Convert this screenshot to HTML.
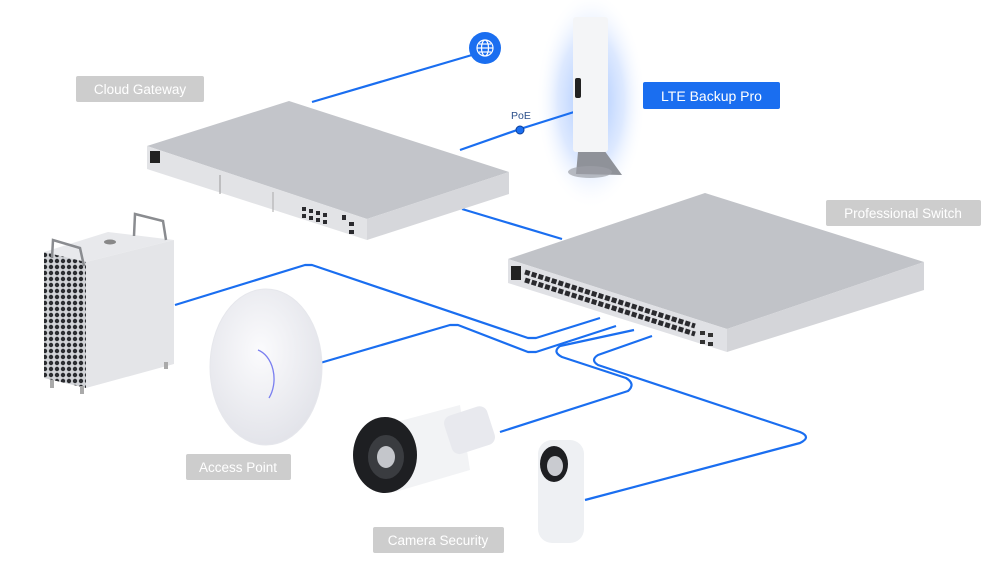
<!DOCTYPE html>
<html><head><meta charset="utf-8"><style>
html,body{margin:0;padding:0;background:#fff;}
svg{display:block}
text{font-family:"Liberation Sans",sans-serif}
</style></head><body>
<svg width="1000" height="573" viewBox="0 0 1000 573" xmlns="http://www.w3.org/2000/svg">
<defs>
<radialGradient id="glow" cx="50%" cy="50%" r="50%">
<stop offset="0" stop-color="#4d8dff" stop-opacity="0.55"/>
<stop offset="0.6" stop-color="#8fb6ff" stop-opacity="0.3"/>
<stop offset="1" stop-color="#fff" stop-opacity="0"/>
</radialGradient>
<radialGradient id="ap" cx="45%" cy="40%" r="60%">
<stop offset="0" stop-color="#fbfbfd"/><stop offset="1" stop-color="#e3e4ea"/>
</radialGradient>
<pattern id="holes" width="6" height="6" patternUnits="userSpaceOnUse">
<rect width="6" height="6" fill="#d0d2d6"/><circle cx="3" cy="3" r="2.2" fill="#2a2c30"/>
</pattern>
</defs>

<!-- LTE glow -->
<ellipse cx="591" cy="100" rx="55" ry="110" fill="url(#glow)"/>

<!-- cables -->
<g fill="none" stroke="#1a6ef0" stroke-width="2.2" stroke-linejoin="round">
<path d="M312 102 L472 55"/>
<path d="M460 150 L520 129 L574 112"/>
<path d="M462 209 L562 239"/>
<path d="M175 305 L305 265 L312 265 L528 338 L536 338 L600 318"/>
<path d="M320 363 L450 325 L458 325 L528 352 L536 352 L616 326"/>
<path d="M500 432 L628 391 Q636 384 626 378 L562 357 Q552 352 560 346 L634 330"/>
<path d="M585 500 L800 443 Q812 437 800 432 L598 365 Q590 360 598 355 L652 336"/>
</g>
<circle cx="520" cy="130" r="4" fill="#1a6ef0" stroke="#0d3f9a" stroke-width="1"/>
<text x="511" y="119" font-size="10.5" fill="#2b4f8a">PoE</text>

<!-- globe -->
<circle cx="485" cy="48" r="16" fill="#1a6ef0"/>
<g fill="none" stroke="#fff" stroke-width="1.2">
<circle cx="485" cy="48" r="8"/><ellipse cx="485" cy="48" rx="3.5" ry="8"/>
<line x1="477" y1="48" x2="493" y2="48"/><line x1="479" y1="44" x2="491" y2="44"/><line x1="479" y1="52" x2="491" y2="52"/>
</g>

<!-- Gateway -->
<polygon points="147,146 289,101 509,172 367,219" fill="#c3c5ca"/>
<polygon points="147,146 367,219 367,240 147,169" fill="#e2e3e6"/>
<polygon points="367,219 509,172 509,194 367,240" fill="#d6d7db"/>
<rect x="150" y="151" width="10" height="12" fill="#222"/>
<g fill="#2a2a2e">
<rect x="302" y="207" width="4" height="4"/><rect x="309" y="209" width="4" height="4"/><rect x="316" y="211" width="4" height="4"/><rect x="323" y="213" width="4" height="4"/>
<rect x="302" y="214" width="4" height="4"/><rect x="309" y="216" width="4" height="4"/><rect x="316" y="218" width="4" height="4"/><rect x="323" y="220" width="4" height="4"/>
<rect x="342" y="215" width="4" height="5"/><rect x="349" y="222" width="5" height="4"/><rect x="349" y="230" width="5" height="4"/>
</g>
<line x1="220" y1="175" x2="220" y2="194" stroke="#999" stroke-width="1"/>
<line x1="273" y1="192" x2="273" y2="212" stroke="#aaa" stroke-width="1"/>

<!-- LTE device -->
<polygon points="578,152 604,150 622,175 576,174" fill="#8f9299"/>
<ellipse cx="590" cy="172" rx="22" ry="6" fill="#9da0a6" opacity="0.7"/>
<rect x="573" y="17" width="35" height="135" rx="3" fill="#f4f5f7"/>
<rect x="575" y="78" width="6" height="20" rx="2" fill="#222"/>
<rect x="643" y="82" width="137" height="27" rx="2" fill="#1a6ef0"/>
<text x="711.5" y="101" font-size="14" fill="#fff" text-anchor="middle">LTE Backup Pro</text>

<!-- Switch -->
<polygon points="508,259 705,193 924,262 727,329" fill="#c1c3c8"/>
<polygon points="508,259 727,329 727,352 508,283" fill="#e0e1e5"/>
<polygon points="727,329 924,262 924,290 727,352" fill="#d4d5d9"/>
<rect x="511" y="266" width="10" height="14" fill="#222"/>
<g stroke="#2a2a2e" stroke-width="5" stroke-dasharray="5 2">
<line x1="525" y1="272" x2="695" y2="326"/>
<line x1="525" y1="280" x2="695" y2="334"/>
</g>
<g fill="#333"><rect x="700" y="331" width="5" height="4"/><rect x="708" y="333" width="5" height="4"/><rect x="700" y="340" width="5" height="4"/><rect x="708" y="342" width="5" height="4"/></g>

<!-- Mac Pro -->
<polygon points="44,252 108,232 174,240 86,262" fill="#e8e9ec"/>
<polygon points="44,252 86,262 86,388 44,378" fill="url(#holes)"/>
<polygon points="86,262 174,240 174,364 86,388" fill="#e4e5e8"/>
<g fill="none" stroke="#8a8c90" stroke-width="2.5">
<path d="M52 258 L53 240 L80 248 L84 266"/>
<path d="M134 236 L135 214 L163 221 L166 240"/>
</g>
<ellipse cx="110" cy="242" rx="6" ry="2.5" fill="#888"/>
<g fill="#aaa"><rect x="50" y="380" width="4" height="8"/><rect x="80" y="386" width="4" height="8"/><rect x="164" y="362" width="4" height="7"/></g>

<!-- AP -->
<ellipse cx="266" cy="367" rx="56" ry="78" fill="url(#ap)" stroke="#e6e7ec"/>
<path d="M258 350 A22 30 0 0 1 269 398" fill="none" stroke="#7a7ff0" stroke-width="1.3"/>

<!-- Camera bullet -->
<polygon points="385,425 460,405 470,470 395,492" fill="#f2f3f5"/>
<rect x="447" y="410" width="45" height="40" rx="8" fill="#e8e9ee" transform="rotate(-18 470 430)"/>
<ellipse cx="385" cy="455" rx="32" ry="38" fill="#1e1f22"/>
<ellipse cx="386" cy="457" rx="18" ry="22" fill="#3a3c40"/>
<ellipse cx="386" cy="457" rx="9" ry="11" fill="#c4c6cb"/>

<!-- Doorbell -->
<rect x="538" y="440" width="46" height="103" rx="14" fill="#eef0f3"/>
<ellipse cx="554" cy="464" rx="14" ry="18" fill="#1e1f22"/>
<ellipse cx="555" cy="466" rx="8" ry="10" fill="#c9cbd0"/>

<!-- labels -->
<g fill="#cdcdcd">
<rect x="76" y="76" width="128" height="26" rx="2"/>
<rect x="826" y="200" width="155" height="26" rx="2"/>
<rect x="186" y="454" width="105" height="26" rx="2"/>
<rect x="373" y="527" width="131" height="26" rx="2"/>
</g>
<g fill="#fff" font-size="13.5" text-anchor="middle">
<text x="140" y="94">Cloud Gateway</text>
<text x="903" y="218">Professional Switch</text>
<text x="238" y="472">Access Point</text>
<text x="438" y="545">Camera Security</text>
</g>
</svg>
</body></html>
